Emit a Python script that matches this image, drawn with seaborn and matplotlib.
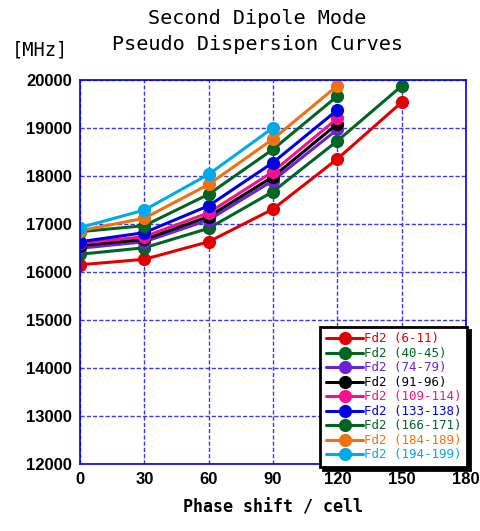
import matplotlib
matplotlib.use("Agg")
import matplotlib.pyplot as plt
import seaborn as sns
import pandas as pd

# phase shift per cell [deg]
phase = [0, 30, 60, 90, 120, 150]

labels = ["Fd2 (6-11)", "Fd2 (40-45)", "Fd2 (74-79)", "Fd2 (91-96)", "Fd2 (109-114)",
          "Fd2 (133-138)", "Fd2 (166-171)", "Fd2 (184-189)", "Fd2 (194-199)"]
colors = ["#e00000", "#006424", "#6a22d4", "#000000", "#f5108c",
          "#0000e0", "#006424", "#f07014", "#00aaea"]

fd2_6_11 = [16150, 16265, 16630, 17310, 18355, 19535]
fd2_40_45 = [16370, 16505, 16910, 17675, 18730, 19875]
fd2_74_79 = [16495, 16630, 17085, 17905, 18970]
fd2_91_96 = [16550, 16680, 17155, 17985, 19085]
fd2_109_114 = [16600, 16735, 17235, 18090, 19200]
fd2_133_138 = [16630, 16820, 17380, 18280, 19375]
fd2_166_171 = [16840, 16965, 17620, 18555, 19665]
fd2_184_189 = [16860, 17120, 17825, 18770, 19880]
fd2_194_199 = [16925, 17290, 18035, 19005]

series = [fd2_6_11, fd2_40_45, fd2_74_79, fd2_91_96, fd2_109_114,
          fd2_133_138, fd2_166_171, fd2_184_189, fd2_194_199]

rows = []
for lab, vals in zip(labels, series):
    for x, v in zip(phase, vals):
        rows.append({"phase": x, "freq": v, "curve": lab})
df = pd.DataFrame(rows)

sns.set_style("white")
plt.rcParams["font.family"] = ["DejaVu Sans Mono"]
plt.rcParams["text.color"] = "black"
plt.rcParams["axes.labelcolor"] = "black"
plt.rcParams["xtick.color"] = "black"
plt.rcParams["ytick.color"] = "black"

fig = plt.figure(figsize=(4.81, 5.31), dpi=100)
ax = fig.add_axes([80 / 481, 67 / 531, 386 / 481, 384 / 531])

sns.lineplot(data=df, x="phase", y="freq", hue="curve", hue_order=labels,
             palette=colors, marker="o", markersize=9.5, markeredgewidth=0,
             linewidth=2.2, sort=False, ax=ax, legend=False)

ax.set_xlim(0, 180)
ax.set_ylim(12000, 20000)
ax.set_xticks(range(0, 181, 30))
ax.set_yticks(range(12000, 20001, 1000))
ax.grid(True, color="#3a3ae6", linestyle=(0, (3, 1.5)), linewidth=1.0)
for s in ax.spines.values():
    s.set_color("#0000e0")
    s.set_linewidth(1.2)
ax.tick_params(length=0, pad=6)
for t in ax.get_xticklabels() + ax.get_yticklabels():
    t.set_fontfamily("Liberation Sans")
    t.set_fontweight("bold")
    t.set_fontsize(12)

ax.set_xlabel("Phase shift / cell", fontsize=12, fontweight="bold", labelpad=8)
ax.set_ylabel("")
fig.text(12 / 481, 1 - 50 / 531, "[MHz]", fontsize=13.5, va="center", ha="left")
fig.text(0.535, 1 - 18 / 531, "Second Dipole Mode", fontsize=14.5, ha="center", va="center")
fig.text(0.535, 1 - 44 / 531, "Pseudo Dispersion Curves", fontsize=14.5, ha="center", va="center")

handles = [plt.Line2D([], [], color=c, marker="o", markersize=9.5, linewidth=2.2,
                      markeredgewidth=0) for c in colors]
leg = ax.legend(handles, labels, loc="lower right", bbox_to_anchor=(1.003, -0.008),
                fontsize=9, frameon=True, fancybox=False, shadow={"color": "black", "alpha": 1},
                edgecolor="black", handlelength=3.0, handletextpad=0.05,
                labelspacing=0.12, borderpad=0.45, borderaxespad=0)
leg.get_frame().set_linewidth(2)
for txt, c in zip(leg.get_texts(), colors):
    txt.set_color(c)

fig.savefig("out.png", dpi=100)
